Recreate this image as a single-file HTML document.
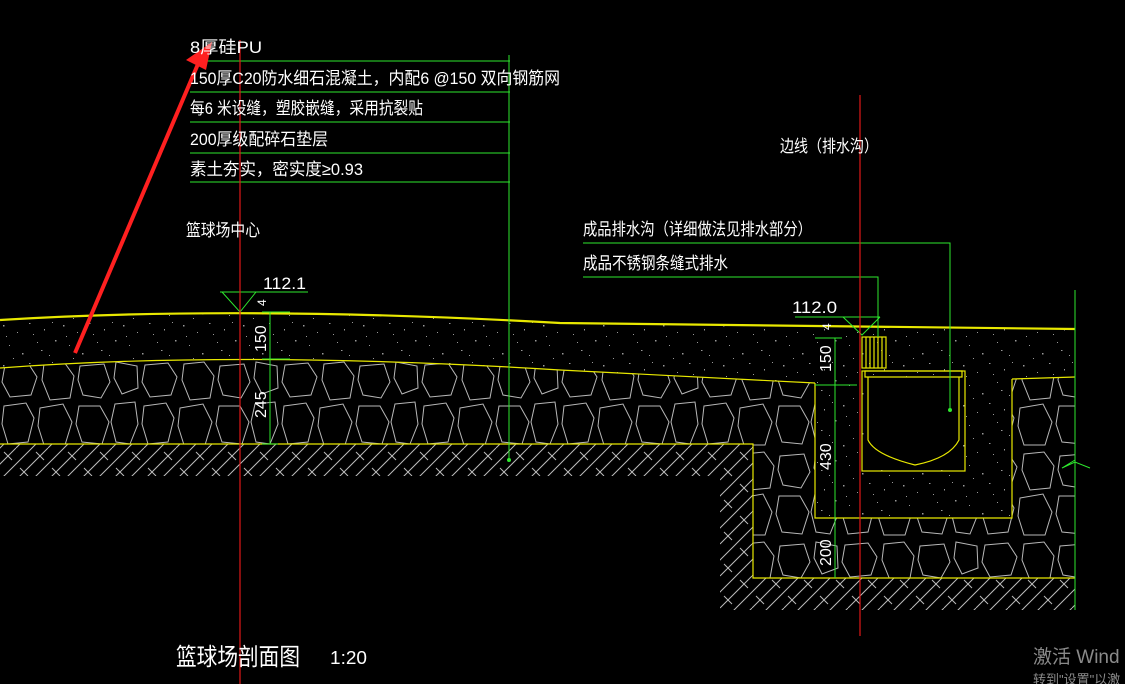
<!DOCTYPE html>
<html><head><meta charset="utf-8"><style>
html,body{margin:0;padding:0;background:#000;width:1125px;height:684px;overflow:hidden}
svg{display:block}
text{font-family:"Liberation Sans","Noto Sans CJK SC",sans-serif;fill:#fff}
</style></head><body>
<svg width="1125" height="684" viewBox="0 0 1125 684" xmlns="http://www.w3.org/2000/svg">
<defs>
<pattern id="gravel" width="140" height="90" patternUnits="userSpaceOnUse">
<g fill="none" stroke="#b8b8b8" stroke-width="1">
<path d="M5,5 L28,3 L37,17 L31,35 L10,37 L2,22Z"/>
<path d="M44,4 L64,2 L74,16 L70,38 L50,40 L42,20Z"/>
<path d="M80,6 L104,4 L110,22 L101,38 L83,35 L78,20Z"/>
<path d="M116,2 L137,6 L138,28 L122,34 L114,18Z"/>
<path d="M4,46 L26,43 L34,58 L28,82 L8,84 L2,64Z"/>
<path d="M40,48 L63,44 L72,62 L65,85 L44,85 L38,66Z"/>
<path d="M79,46 L100,46 L109,62 L102,84 L82,82 L76,64Z"/>
<path d="M115,44 L135,42 L138,64 L130,84 L116,82 L111,62Z"/>
</g></pattern>
<pattern id="conc" width="60" height="40" patternUnits="userSpaceOnUse">
<g fill="#999">
<rect x="3" y="5" width="1.5" height="1.5"/><rect x="17" y="12" width="1" height="1"/>
<rect x="29" y="3" width="1.5" height="1"/><rect x="44" y="9" width="1" height="1.5"/>
<rect x="55" y="20" width="1.5" height="1.5"/><rect x="9" y="25" width="1" height="1"/>
<rect x="22" y="33" width="1.5" height="1.5"/><rect x="37" y="22" width="1" height="1"/>
<rect x="49" y="35" width="1" height="1"/><rect x="13" y="38" width="1" height="1"/>
<rect x="33" y="14" width="1" height="1"/><rect x="52" y="2" width="1" height="1"/>
<rect x="6" y="16" width="1" height="1"/><rect x="41" y="30" width="1.5" height="1"/>
</g></pattern>
<pattern id="hatch" width="32" height="32" patternUnits="userSpaceOnUse">
<g stroke="#bbb" stroke-width="1" fill="none">
<path d="M0,32 L32,0 M-8,8 L8,-8 M24,40 L40,24"/>
<path d="M-16,32 L16,0 M16,32 L48,0"/>
<path d="M4,4 L12,12 M20,20 L28,28"/>
</g></pattern>
</defs>

<path d="M0,444 L753,444 L753,578 L1075,578 L1075,610 L720,610 L720,476 L0,476Z" fill="url(#hatch)"/>
<path d="M0,368 Q240,350 560,370 L815,383 L815,518 L1012,518 L1012,379 L1075,377 L1075,578 L753,578 L753,444 L0,444Z" fill="url(#gravel)"/>
<path d="M0,320 Q240,305 560,323 L1075,329 L1075,377 L1012,379 L1012,518 L815,518 L815,383 L560,370 Q240,350 0,368Z" fill="url(#conc)"/>
<rect x="866" y="379" width="95" height="90" fill="#000"/>

<g stroke="#e8e800" fill="none" stroke-width="1.2">
<path d="M0,320 Q240,305 560,323 L1075,329" stroke-width="2.2"/>
<path d="M0,368 Q240,350 560,370 L815,383"/>
<path d="M1012,379 L1075,377"/>
<path d="M0,444 L753,444 L753,578 L1075,578"/>
<path d="M815,383 L815,518 L1012,518 L1012,379"/>
<rect x="862" y="371" width="103" height="100"/>
<path d="M865,371 L962,371 L962,377 L865,377Z"/>
<path d="M868,377 L868,440 Q875,455 915,465 Q950,458 959,440 L959,377"/>
<rect x="862" y="337" width="24" height="31"/>
<path d="M866,337V368M870,337V368M874,337V368M878,337V368M882,337V368"/>
</g>

<g stroke="#2ee82e" fill="none" stroke-width="1">
<path d="M190,61H510M190,92H510M190,122H510M190,153H510M190,182H510"/>
<path d="M509,55V460"/>
<path d="M583,243H950V410M583,277H878V337"/>
<path d="M1075,290V610"/>
<path d="M1075,460 L1062,468 L1075,462 L1090,468"/>
<path d="M270,312V444M262,312H290M262,359H290M262,444H278"/>
<path d="M835,338V578M815,338H842M815,385H857"/>
<path d="M220,292H308M222,292L240,312L256,292"/>
<path d="M795,317H880M843,317L862,335L880,317"/>
</g>
<g fill="#2ee82e"><circle cx="509" cy="460" r="2"/><circle cx="950" cy="410" r="2"/></g>

<g stroke="#e01818" fill="none" stroke-width="1.2">
<path d="M240,40V684"/>
<path d="M860,95V636"/>
</g>
<path d="M75,353 L198,64" stroke="#ff2020" stroke-width="4"/>
<path d="M212,42 L186,60 L206,70Z" fill="#ff2020"/>

<g font-size="17">
<text x="190" y="53" textLength="72" lengthAdjust="spacingAndGlyphs">8厚硅PU</text>
<text x="190" y="84" textLength="370" lengthAdjust="spacingAndGlyphs">150厚C20防水细石混凝土，内配6 @150 双向钢筋网</text>
<text x="190" y="114" textLength="233" lengthAdjust="spacingAndGlyphs">每6 米设缝，塑胶嵌缝，采用抗裂贴</text>
<text x="190" y="145" textLength="138" lengthAdjust="spacingAndGlyphs">200厚级配碎石垫层</text>
<text x="190" y="175" textLength="173" lengthAdjust="spacingAndGlyphs">素土夯实，密实度≥0.93</text>
<text x="186" y="236" textLength="74" lengthAdjust="spacingAndGlyphs">篮球场中心</text>
<text x="780" y="152" textLength="98" lengthAdjust="spacingAndGlyphs">边线（排水沟）</text>
<text x="583" y="235" textLength="229" lengthAdjust="spacingAndGlyphs">成品排水沟（详细做法见排水部分）</text>
<text x="583" y="269" textLength="145" lengthAdjust="spacingAndGlyphs">成品不锈钢条缝式排水</text>
<text x="263" y="289" textLength="43" lengthAdjust="spacingAndGlyphs">112.1</text>
<text x="792" y="313" textLength="45" lengthAdjust="spacingAndGlyphs">112.0</text>
</g>
<g font-size="16">
<text transform="translate(266,352) rotate(-90)">150</text>
<text transform="translate(266,418) rotate(-90)">245</text>
<text transform="translate(266,306) rotate(-90)" font-size="12">4</text>
<text transform="translate(831,372) rotate(-90)">150</text>
<text transform="translate(831,470) rotate(-90)">430</text>
<text transform="translate(831,566) rotate(-90)">200</text>
<text transform="translate(831,330) rotate(-90)" font-size="12">4</text>
</g>
<text x="176" y="665" font-size="24" textLength="124" lengthAdjust="spacingAndGlyphs">篮球场剖面图</text>
<text x="330" y="664" font-size="18" textLength="37" lengthAdjust="spacingAndGlyphs">1:20</text>
<text x="1033" y="663" font-size="19" style="fill:#8a8a8a">激活 Wind</text>
<text x="1033" y="684" font-size="13" style="fill:#8a8a8a">转到"设置"以激</text>
</svg>
</body></html>
